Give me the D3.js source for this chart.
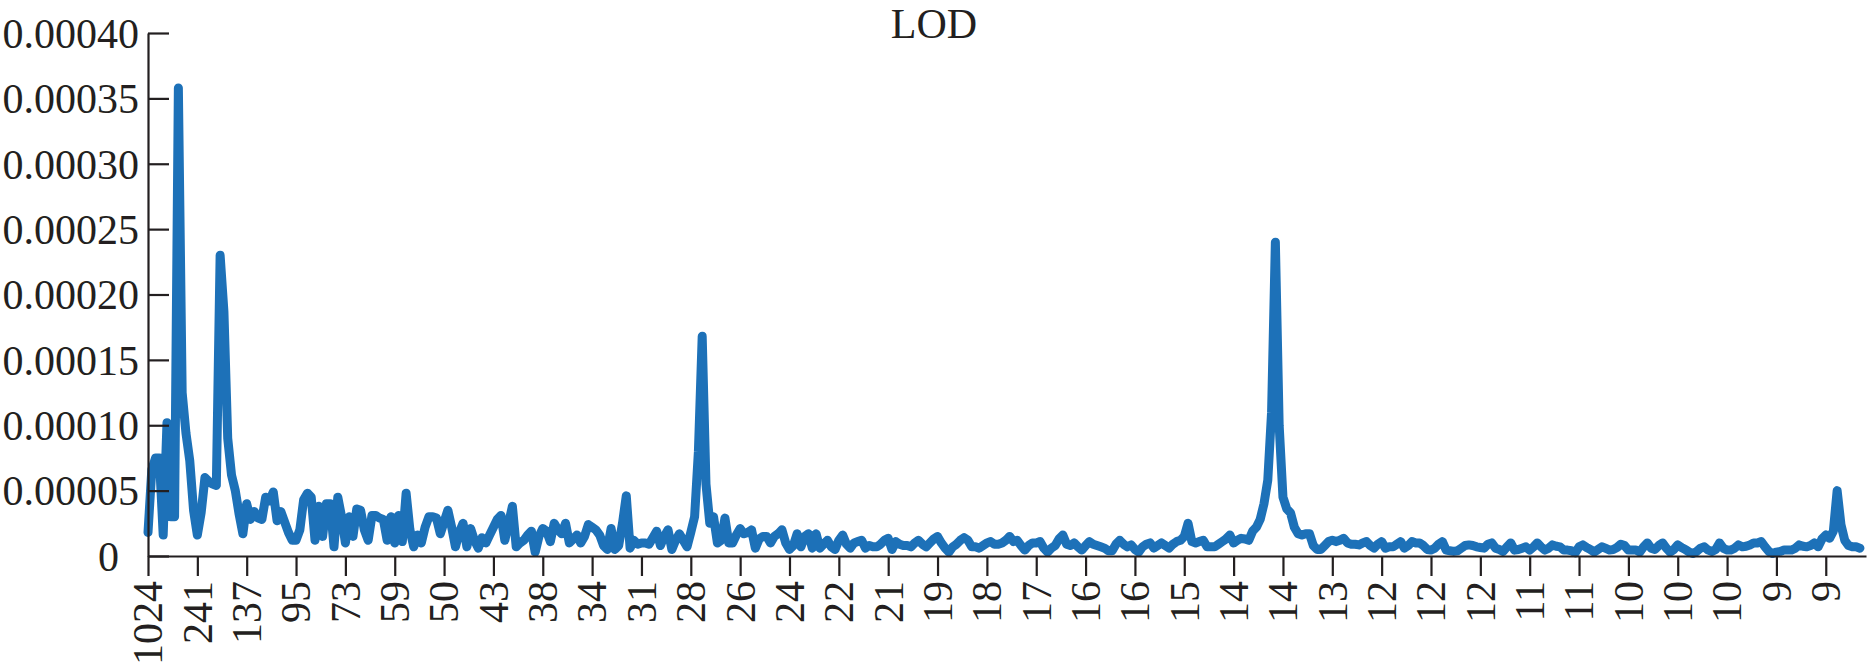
<!DOCTYPE html>
<html>
<head>
<meta charset="utf-8">
<script src="https://cdn.jsdelivr.net/npm/d3@7"></script>
<style>
  html, body { margin: 0; padding: 0; background: #fff; }
  svg { display: block; }
  text { font-family: "Liberation Serif", "Times New Roman", serif; fill: #231f20; }
</style>
</head>
<body>
<svg id="chart" width="1868" height="668"></svg>
<script>
// ---- data ----
const chartTitle = "LOD";
// period labels shown under every 13th spectral point
const periodLabels = ["1024","241","137","95","73","59","50","43","38","34","31","28","26","24","22","21","19","18","17","16","16","15","14","14","13","12","12","12","11","11","10","10","10","9","9"];
const labelStep = 13;
// y tick values
const yTicks = [0, 0.00005, 0.00010, 0.00015, 0.00020, 0.00025, 0.00030, 0.00035, 0.00040];
// spectral power, in units of 1e-5
const unit = 1e-5;
const lodPower = [
1.8,6.6,7.5,7.5,1.6,10.2,3.0,3.0,35.8,12.5,9.4,7.3,3.5,1.6,3.3,6.0,5.7,5.5,5.4,23.0,
18.7,9.0,6.2,5.0,3.2,1.7,4.0,2.8,3.4,2.9,2.8,4.5,4.2,4.9,2.7,3.4,2.6,1.8,1.2,1.2,
2.0,4.3,4.8,4.5,1.2,3.8,1.5,4.0,4.0,0.7,4.5,3.0,1.0,3.0,1.5,3.6,3.5,2.0,1.2,3.1,
3.1,2.9,2.8,1.2,3.0,1.0,3.1,1.1,4.8,2.0,0.7,1.6,1.0,2.2,3.0,3.0,2.9,1.7,2.6,3.5,
2.2,0.7,1.8,2.5,0.7,2.1,1.2,0.6,1.4,1.0,1.6,2.2,2.8,3.1,1.2,2.5,3.8,0.7,1.0,1.2,
1.6,1.9,0.3,1.5,2.1,1.9,1.1,2.5,2.0,1.7,2.5,1.0,1.3,1.6,1.0,1.5,2.4,2.2,2.0,1.6,
0.8,0.5,2.1,0.5,0.8,2.5,4.6,0.6,1.2,0.9,1.0,1.0,0.9,1.4,1.9,0.8,1.5,2.0,0.5,1.2,
1.7,1.2,0.7,1.8,3.0,8.0,16.8,5.5,2.5,3.0,1.0,1.2,2.9,1.0,1.0,1.6,2.1,1.7,1.8,2.0,
0.6,1.3,1.5,1.5,1.0,1.5,1.7,2.0,1.0,0.5,0.8,1.7,0.7,1.5,1.7,0.6,1.7,0.6,0.9,1.2,
0.7,0.5,1.2,1.6,0.9,0.6,1.0,1.1,1.2,0.6,0.8,0.7,0.7,0.9,1.2,1.35,0.5,1.1,0.9,0.8,
0.8,0.7,1.0,1.2,0.9,0.7,1.0,1.3,1.5,1.0,0.6,0.3,0.7,0.9,1.2,1.4,1.2,0.7,0.7,0.6,
0.8,1.0,1.1,0.9,0.9,1.0,1.2,1.5,1.1,1.2,0.8,0.45,0.8,1.0,1.0,1.1,0.6,0.3,0.6,0.8,
1.3,1.6,0.9,0.8,1.0,0.7,0.45,0.8,1.1,0.9,0.8,0.7,0.6,0.4,0.4,0.9,1.2,0.9,0.7,0.85,
0.5,0.3,0.7,0.9,1.0,0.6,0.8,1.0,0.8,0.6,0.9,1.1,1.2,1.5,2.5,1.1,1.0,1.1,1.2,0.7,
0.7,0.7,0.9,1.1,1.3,1.6,1.0,1.2,1.35,1.3,1.2,1.9,2.2,2.8,4.0,5.8,11.0,24.0,10.0,4.5,
3.6,3.3,2.2,1.7,1.6,1.7,1.7,0.8,0.5,0.5,0.8,1.1,1.2,1.1,1.2,1.35,1.0,0.9,0.9,0.85,
1.0,1.1,0.8,0.6,0.9,1.1,0.6,0.7,0.7,0.9,1.1,0.6,0.8,1.1,1.0,1.0,0.8,0.5,0.45,0.6,
0.9,1.1,0.45,0.4,0.35,0.4,0.6,0.8,0.85,0.8,0.7,0.65,0.6,0.9,1.0,0.6,0.5,0.35,0.7,1.0,
0.45,0.5,0.6,0.7,0.45,0.7,1.0,0.7,0.45,0.6,0.85,0.75,0.7,0.45,0.45,0.4,0.25,0.7,0.85,0.65,
0.5,0.3,0.5,0.7,0.6,0.45,0.5,0.65,0.9,0.8,0.45,0.45,0.45,0.3,0.7,1.0,0.6,0.5,0.8,1.0,
0.6,0.3,0.5,0.85,0.65,0.5,0.3,0.2,0.35,0.6,0.7,0.45,0.35,0.5,1.0,0.6,0.45,0.45,0.6,0.85,
0.7,0.75,0.85,1.0,1.0,1.1,0.7,0.35,0.2,0.3,0.35,0.45,0.45,0.45,0.6,0.85,0.75,0.7,0.8,1.0,
0.7,1.3,1.6,1.35,1.9,5.0,2.4,1.2,0.8,0.7,0.7,0.6
];

// ---- layout ----
const W = 1868, H = 668;
const plotLeft = 148, plotRight = 1866, plotTop = 33, plotBottom = 556;
const fontSize = 42;

const svg = d3.select("#chart");

const x = d3.scaleLinear().domain([0, 452.6]).range([plotLeft, plotRight]);
const y = d3.scaleLinear().domain([0, 0.0004]).range([plotBottom, plotTop]);

// title
svg.append("text")
  .attr("x", W / 2)
  .attr("y", 38)
  .attr("text-anchor", "middle")
  .style("font-size", fontSize + "px")
  .text(chartTitle);

// line
const line = d3.line()
  .x((d, i) => x(i))
  .y(d => y(d * unit));

svg.append("path")
  .datum(lodPower)
  .attr("fill", "none")
  .attr("stroke", "#1d71b8")
  .attr("stroke-width", 9)
  .attr("stroke-linejoin", "round")
  .attr("stroke-linecap", "round")
  .attr("d", line);

// x axis
const xAxis = d3.axisBottom(x)
  .tickValues(periodLabels.map((_, j) => j * labelStep))
  .tickFormat((d, j) => periodLabels[j])
  .tickSizeInner(20)
  .tickSizeOuter(0)
  .tickPadding(5);

const gx = svg.append("g")
  .attr("transform", `translate(0,${plotBottom})`)
  .call(xAxis);
gx.select(".domain").attr("stroke", "#231f20").attr("stroke-width", 2.2);
gx.selectAll(".tick line").attr("stroke", "#231f20").attr("stroke-width", 2.2);
gx.selectAll(".tick text")
  .attr("transform", "rotate(-90)")
  .attr("x", -25)
  .attr("y", 0)
  .attr("dy", "0.33em")
  .style("text-anchor", "end")
  .style("font-size", fontSize + "px")
  .style("font-family", "'Liberation Serif', 'Times New Roman', serif")
  .attr("fill", "#231f20");

// y axis (ticks pointing inward)
const yAxis = d3.axisLeft(y)
  .tickValues(yTicks)
  .tickFormat(d => d === 0 ? "0" : d.toFixed(5))
  .tickSizeInner(-21)
  .tickSizeOuter(0)
  .tickPadding(9);

const gy = svg.append("g")
  .attr("transform", `translate(${plotLeft},0)`)
  .call(yAxis);
gy.select(".domain").attr("stroke", "#231f20").attr("stroke-width", 2.2);
gy.selectAll(".tick line").attr("stroke", "#231f20").attr("stroke-width", 2.2);
gy.selectAll(".tick text")
  .style("font-size", fontSize + "px")
  .style("font-family", "'Liberation Serif', 'Times New Roman', serif")
  .attr("fill", "#231f20")
  .attr("dy", "0.34em")
  .attr("dx", d => d === 0 ? -20 : 0);
</script>
</body>
</html>
